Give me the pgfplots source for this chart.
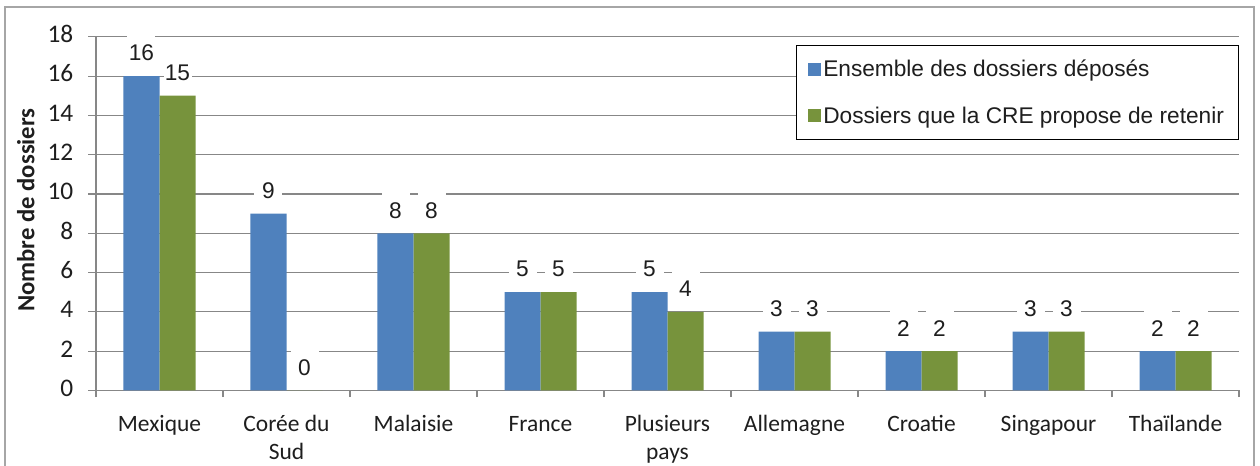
\documentclass[border=0pt]{standalone}
\usepackage{pgfplots}
\pgfplotsset{compat=1.18}
\usepackage{fontspec}
\setmainfont{Liberation Sans}
\newfontfamily\calfont{Carlito}
\definecolor{barblue}{HTML}{4F81BD}
\definecolor{bargreen}{HTML}{77933C}
\definecolor{gridgray}{HTML}{878787}
\definecolor{framegray}{HTML}{A6A6A6}
\definecolor{txt}{HTML}{1E1E1E}
\begin{document}
\begin{tikzpicture}[x=0.75pt,y=0.75pt]
\path[use as bounding box] (0,0) rectangle (1260,466);
\draw[framegray, line width=1.1pt] (5,-5) rectangle (1254,459);
\begin{axis}[
  at={(72pt,56.625pt)}, anchor=south west,
  scale only axis, width=857.25pt, height=265.3pt,
  /pgf/number format/assume math mode=true,
  ybar, bar width=0.2835,
  ymin=0, ymax=18, ytick={0,2,...,18},
  xmin=-0.5, xmax=8.5,
  xtick={0,...,8},
  xticklabels={Mexique, {Corée du\\Sud}, Malaisie, France, {Plusieurs\\pays}, Allemagne, Croatie, Singapour, Thaïlande},
  typeset ticklabels with strut,
  minor xtick={-0.5,0.5,...,8.5},
  major x tick style={draw=none},
  axis x line*=bottom, axis y line*=left,
  axis line style={gridgray, line width=0.8pt, -},
  tick style={gridgray, line width=0.8pt},
  tick align=outside,
  major tick length=6pt, minor tick length=5pt,
  ymajorgrids, grid style={gridgray, line width=0.8pt},
  yticklabel style={font=\calfont\fontsize{19}{22}\selectfont, text=txt, xshift=-7.5pt},
  xticklabel style={font=\calfont\fontsize{17.6}{21}\selectfont, text=txt, align=center, anchor=north, yshift=-6.5pt},
  ylabel={Nombre de dossiers},
  ylabel style={font=\calfont\bfseries\fontsize{18.5}{20}\selectfont, text=txt, at={(axis description cs:-0.0615,0.51)}, anchor=center},
  legend style={at={(1,0.977)}, anchor=north east, draw=black, line width=0.6pt, fill=white,
    font=\fontsize{17}{20}\selectfont, text=txt, inner xsep=9pt, inner ysep=9pt, row sep=17pt},
  legend cell align=left,
  legend image code/.code={\fill[#1,draw=none] (0pt,-4.8pt) rectangle (9.5pt,4.8pt);},
  nodes near coords,
  every node near coord/.append style={font=\fontsize{17}{19}\selectfont, text=txt, fill=white,
    inner sep=0pt, minimum width=21pt, minimum height=28pt, anchor=center, yshift=17.25pt},
]
\addplot[fill=barblue, draw=none, bar shift=-0.14175] coordinates {(0,16) (1,9) (2,8) (3,5) (4,5) (5,3) (6,2) (7,3) (8,2)};
\addlegendentry{Ensemble des dossiers déposés}
\addplot[fill=bargreen, draw=none, bar shift=0.14175] coordinates {(0,15) (1,0) (2,8) (3,5) (4,4) (5,3) (6,2) (7,3) (8,2)};
\addlegendentry{Dossiers que la CRE propose de retenir}
\end{axis}
\end{tikzpicture}
\end{document}
